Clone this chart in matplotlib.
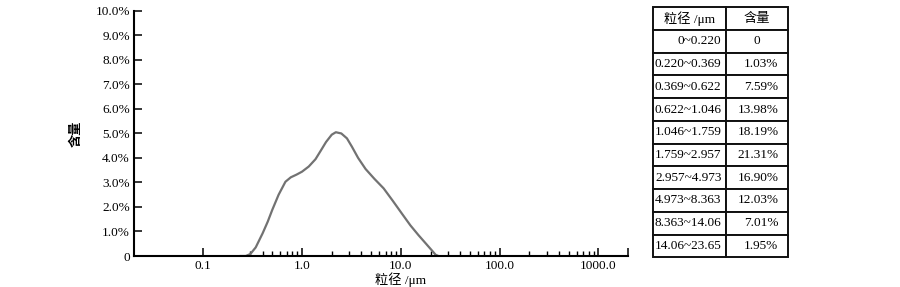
import numpy as np
import matplotlib.pyplot as plt
from matplotlib.ticker import FixedLocator, NullFormatter

plt.rcParams['font.family'] = ['Liberation Serif', 'Noto Sans CJK SC']

# 粒径分布曲线 (μm, %)
size_um = [0.235, 0.27, 0.30, 0.34, 0.40, 0.45, 0.50, 0.58, 0.68, 0.77, 0.88, 1.0,
           1.17, 1.37, 1.55, 1.75, 2.0, 2.2, 2.5, 2.85, 3.2, 3.7, 4.4, 5.4, 6.7,
           8.3, 10.3, 12.5, 15.1, 18.0, 20.7, 22.5, 24.0]
content = [0, 0, 0.08, 0.35, 0.93, 1.4, 1.88, 2.5, 3.03, 3.21, 3.32, 3.44,
           3.65, 3.95, 4.3, 4.65, 4.95, 5.05, 5.0, 4.8, 4.46, 4.0, 3.55, 3.15, 2.76,
           2.25, 1.72, 1.25, 0.85, 0.5, 0.22, 0.05, 0]

x_major = [0.1, 1, 10, 100, 1000]
x_labels = ['0.1', '1.0', '10.0', '100.0', '1000.0']
y_ticks = np.arange(0, 11, 1)
y_labels = ['0'] + ['%.1f%%' % v for v in y_ticks[1:]]

# 表格
ranges = ['0~0.220', '0.220~0.369', '0.369~0.622', '0.622~1.046', '1.046~1.759',
          '1.759~2.957', '2.957~4.973', '4.973~8.363', '8.363~14.06', '14.06~23.65']
fractions = ['0', '1.03%', '7.59%', '13.98%', '18.19%', '21.31%', '16.90%',
             '12.03%', '7.01%', '1.95%']
header = ['粒径 /μm', '含量']

fig = plt.figure(figsize=(9, 2.87), dpi=100)
ax = fig.add_axes([0.149, 0.108, 0.549, 0.854])
ax.plot(size_um, content, color='#727272', lw=1.6, solid_capstyle='round')
ax.set_xscale('log')
ax.set_xlim(0.02, 2000)
ax.set_ylim(0, 10)

ax.xaxis.set_major_locator(FixedLocator(x_major + [2000]))
ax.set_xticklabels(x_labels + [''])
minor = [m * 0.1 for m in range(3, 10)] + [m * 10.0 ** k for k in range(0, 3) for m in range(2, 10)]
ax.xaxis.set_minor_locator(FixedLocator(minor))
ax.xaxis.set_minor_formatter(NullFormatter())
ax.set_yticks(y_ticks)
ax.set_yticklabels(y_labels)

for s in ['top', 'right']:
    ax.spines[s].set_visible(False)
for s in ['left', 'bottom']:
    ax.spines[s].set_linewidth(1.5)
ax.tick_params(axis='both', which='major', direction='in', length=6, width=1.1,
               labelsize=9.5, pad=3)
ax.tick_params(axis='x', which='minor', direction='in', length=3.5, width=1.0)
ax.set_xlabel('粒径 /μm', fontsize=9.5, labelpad=1)
ax.xaxis.set_label_coords(0.54, -0.066)
ax.set_ylabel('含量', fontsize=9.5, fontweight='bold')
ax.yaxis.set_label_coords(-0.104, 0.5)

# 右侧表格
tax = fig.add_axes([0.7252, 0.1035, 0.15, 0.871])
tax.axis('off')
rows = [header] + [[r, f] for r, f in zip(ranges, fractions)]
tbl = tax.table(cellText=rows, bbox=[0, 0, 1, 1], colWidths=[0.543, 0.457])
tbl.auto_set_font_size(False)
for (r, c), cell in tbl.get_celld().items():
    cell.set_linewidth(1.4)
    cell.set_edgecolor('#111111')
    cell.get_text().set_fontsize(9.5)
    if r == 0 or rows[r][c] == '0':
        cell.get_text().set_ha('center')
        cell._loc = 'center'
    else:
        cell._loc = 'right'
        cell.PAD = 0.06 if c == 0 else 0.15

fig.savefig('out.png', dpi=100)
